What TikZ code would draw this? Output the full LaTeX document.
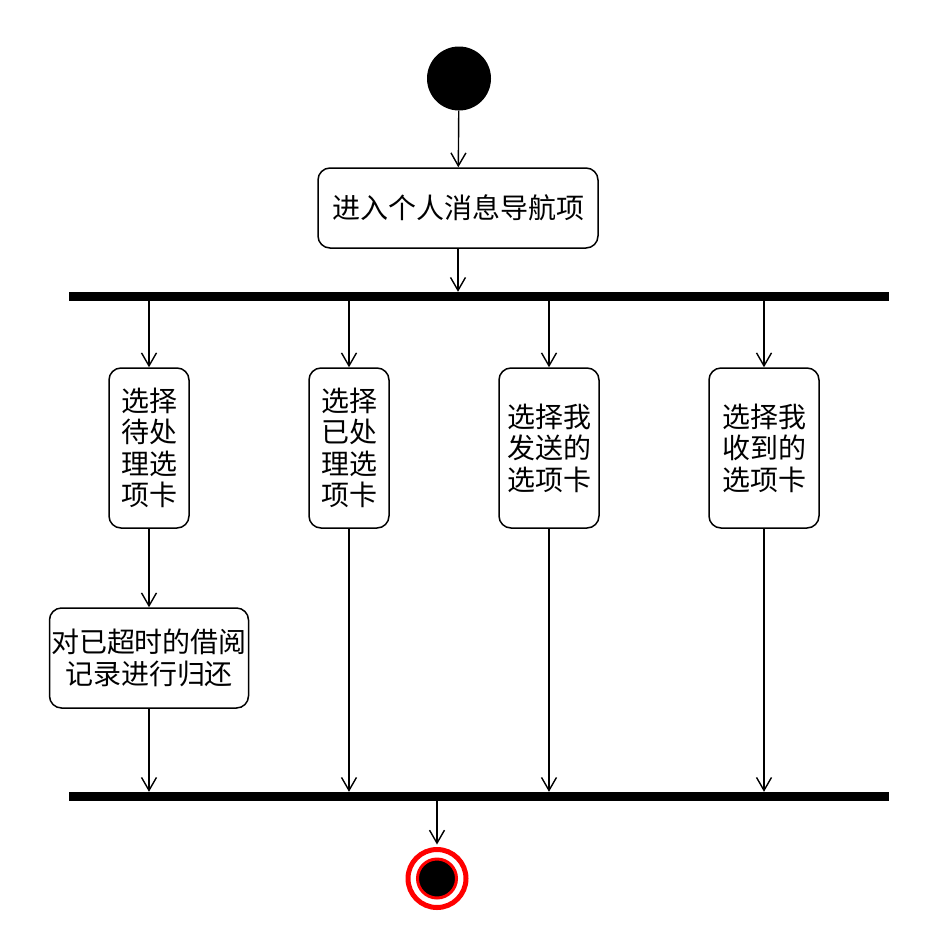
\documentclass[tikz,border=0pt]{standalone}
\usepackage{fontspec}
\newfontfamily\cjk{Noto Sans CJK SC}
\usetikzlibrary{positioning, arrows.meta}

\begin{document}
\begin{tikzpicture}[x=1pt, y=-1pt,
		act/.style={draw, rounded corners=12pt, line width=1.5pt, inner sep=0pt, align=center, font=\cjk\fontsize{28}{31.5}\selectfont},
		bar/.style={fill=black, inner sep=0pt, minimum width=820pt, minimum height=9pt},
		flow/.style={-{Straight Barb[length=13pt, width=15pt]}, line width=1.4pt}]
		\useasboundingbox (0,0) rectangle (926,946);
		\node (start) [circle, fill=black, inner sep=0pt, minimum size=64pt] at (459,78.5) {};
		\node (enter) [act, minimum width=280pt, minimum height=80pt] at (458,208) {进入个人消息导航项};
		\node (fork) [bar] at (479,296.5) {};
		\node (pending) [act, minimum width=80pt, minimum height=160pt] at (149,448) {选择\\待处\\理选\\项卡};
		\node (done) [act, minimum width=80pt, minimum height=160pt] at (349,448) {选择\\已处\\理选\\项卡};
		\node (sent) [act, minimum width=100pt, minimum height=160pt] at (549,448) {选择我\\发送的\\选项卡};
		\node (recv) [act, minimum width=110pt, minimum height=160pt] at (764,448) {选择我\\收到的\\选项卡};
		\node (giveback) [act, minimum width=199pt, minimum height=100pt] at (149,658) {对已超时的借阅\\记录进行归还};
		\node (join) [bar] at (479,796.5) {};
		\node (stop) [circle, fill=white, draw=red, line width=5pt, inner sep=0pt, minimum size=58pt] at (437,878.5) {};
		\node (stopdot) [circle, fill=black, draw=red, line width=3pt, inner sep=0pt, minimum size=39pt] at (stop) {};
		\draw[flow] (start) -- (enter);
		\draw[flow] (enter) -- (enter |- fork.north);
		\foreach \n in {pending, done, sent, recv}
			\draw[flow] (\n.north |- fork.south) -- (\n);
		\draw[flow] (pending) -- (giveback);
		\foreach \n in {giveback, done, sent, recv}
			\draw[flow] (\n) -- (\n |- join.north);
		\draw[flow, shorten >=2.5pt] (stop |- join.south) -- (stop);
	\end{tikzpicture}
\end{document}
